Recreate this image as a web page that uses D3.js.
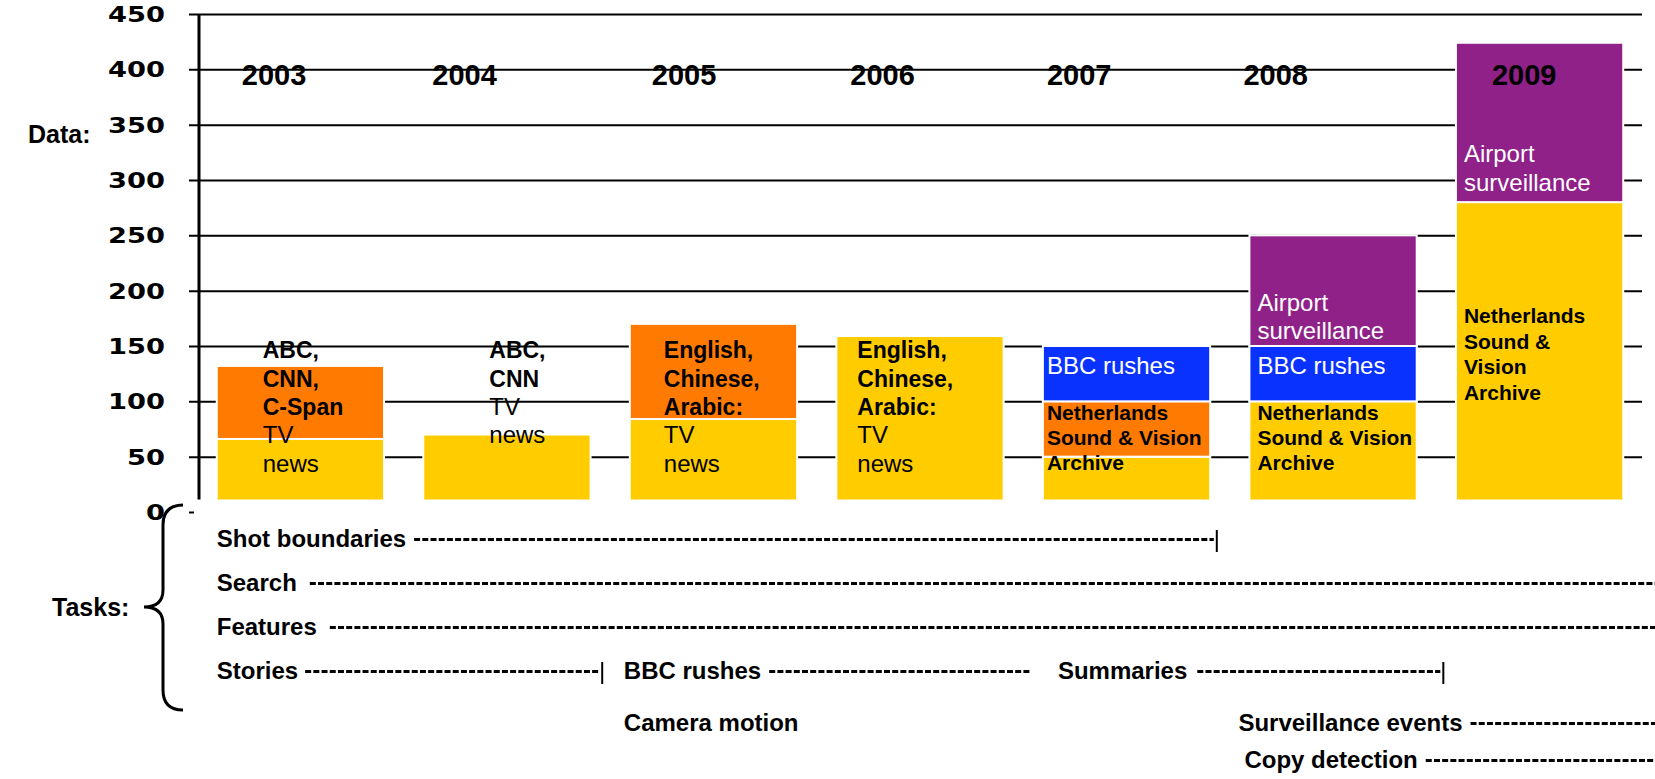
<!DOCTYPE html>
<html>
<head>
<meta charset="utf-8">
<script src="https://cdn.jsdelivr.net/npm/d3@7"></script>
<style>
  body { margin: 0; background: #fff; }
  svg { display: block; font-family: "Liberation Sans", Arial, sans-serif; }
</style>
</head>
<body>
<svg id="chart" width="1655" height="779"></svg>
<script>
// --- data ---
var years = ["2003", "2004", "2005", "2006", "2007", "2008", "2009"]
var layerKeys = ["yellow", "orange", "blue", "purple"]
var yellowVals = [66, 70, 84, 159, 50, 100, 280]
var orangeVals = [66, 0, 86, 0, 50, 0, 0]
var blueVals   = [0, 0, 0, 0, 50, 50, 0]
var purpleVals = [0, 0, 0, 0, 0, 100, 144]
var yTicks = [0, 50, 100, 150, 200, 250, 300, 350, 400, 450]

var taskNames = ["Shot boundaries", "Search", "Features", "Stories", "BBC rushes",
                 "Summaries", "Camera motion", "Surveillance events", "Copy detection"]
var taskRow  = [0, 1, 2, 3, 3, 3, 4, 4, 5]
var taskFrom = ["2003", "2003", "2003", "2003", "2005", "2007", "2005", "2008", "2008"]
var taskTo   = ["2007", "2009", "2009", "2004", "2006", "2008", null, "2009", "2009"]
var taskStop = [true, false, false, true, false, true, false, false, false]

var colors = { yellow: "#FFCC00", orange: "#FF7A00", blue: "#0A32FF", purple: "#8F2189" }

// --- layout ---
var W = 1655, H = 779
var axisX = 199, plotRight = 1642, barFloor = 499.5
var taskRowY = [547, 591, 635, 679, 731, 768]
var taskDx = [0, 0, 0, 0, -6, 15, -6, -11, -5]
var taskEndDx = [-13, 0, 0, -8, 8, 7, 0, 0, 0]
var taskGap = [8, 13, 13, 7, 8, 10, 0, 8, 8]
var yearDx = [25, 9, 22, 14, 4, -6, 36]

var svg = d3.select("#chart")

var x = d3.scaleBand().domain(years).range([axisX, 1641])
  .paddingInner(0.19).paddingOuter(0.086)
var y = d3.scaleLinear().domain([0, 450]).range([512, 14])

// axis + gridlines
var yAxis = d3.axisLeft(y).tickValues(yTicks).tickSize(10)
var gAxis = svg.append("g")
  .attr("transform", "translate(" + axisX + ",0)")
  .call(yAxis)
gAxis.select(".domain").remove()
gAxis.selectAll(".tick line")
  .attr("x1", d => d === 0 ? -5 : plotRight - axisX)
  .attr("x2", -10)
  .attr("stroke", "#000")
  .attr("stroke-width", 2)
gAxis.selectAll(".tick text")
  .attr("x", -34 / 1.3)
  .attr("dy", "0.36em")
  .attr("transform", "scale(1.3,1)")
  .attr("fill", "#000")
  .style("font-family", "'DejaVu Sans', sans-serif")
  .style("font-weight", "bold")
  .style("font-size", "21px")

svg.append("line")
  .attr("x1", axisX).attr("x2", axisX)
  .attr("y1", y(450)).attr("y2", barFloor)
  .attr("stroke", "#000").attr("stroke-width", 3)

// bars
svg.append("clipPath").attr("id", "plotclip")
  .append("rect").attr("x", 0).attr("y", 0).attr("width", W).attr("height", barFloor)

var rows = years.map((yr, i) => ({
  year: yr, yellow: yellowVals[i], orange: orangeVals[i], blue: blueVals[i], purple: purpleVals[i]
}))
var stacked = d3.stack().keys(layerKeys)(rows)

svg.append("g").attr("clip-path", "url(#plotclip)")
  .selectAll("g").data(stacked).enter().append("g")
  .attr("fill", s => colors[s.key])
  .selectAll("rect").data(s => s.filter(d => d[1] > d[0])).enter().append("rect")
  .attr("x", d => x(d.data.year))
  .attr("width", x.bandwidth())
  .attr("y", d => y(d[1]))
  .attr("height", d => y(d[0]) - y(d[1]))
  .attr("stroke", "#fff")
  .attr("stroke-width", 2)

// year labels
svg.selectAll(".yearlab").data(years).enter().append("text")
  .attr("class", "yearlab")
  .attr("x", (d, i) => x(d) + yearDx[i])
  .attr("y", 85)
  .style("font-weight", "bold")
  .style("font-size", "29px")
  .text(d => d)

// text inside bars
var notes = [
  { year: "2003", dx: 46, y: 358, lh: 28.5, bold: true, size: 23, fill: "#000", lines: ["ABC,", "CNN,", "C-Span"] },
  { year: "2003", dx: 46, y: 443, lh: 28.5, bold: false, size: 24, fill: "#000", lines: ["TV", "news"] },
  { year: "2004", dx: 66, y: 358, lh: 28.5, bold: true, size: 23, fill: "#000", lines: ["ABC,", "CNN"] },
  { year: "2004", dx: 66, y: 415, lh: 28, bold: false, size: 24, fill: "#000", lines: ["TV", "news"] },
  { year: "2005", dx: 34, y: 358, lh: 28.5, bold: true, size: 23, fill: "#000", lines: ["English,", "Chinese,", "Arabic:"] },
  { year: "2005", dx: 34, y: 443, lh: 28.5, bold: false, size: 24, fill: "#000", lines: ["TV", "news"] },
  { year: "2006", dx: 21, y: 358, lh: 28.5, bold: true, size: 23, fill: "#000", lines: ["English,", "Chinese,", "Arabic:"] },
  { year: "2006", dx: 21, y: 443, lh: 28.5, bold: false, size: 24, fill: "#000", lines: ["TV", "news"] },
  { year: "2007", dx: 4, y: 374, lh: 28, bold: false, size: 24, fill: "#fff", lines: ["BBC rushes"] },
  { year: "2007", dx: 4, y: 420, lh: 25, bold: true, size: 21, fill: "#000", lines: ["Netherlands", "Sound & Vision", "Archive"] },
  { year: "2008", dx: 8, y: 311, lh: 27.5, bold: false, size: 24, fill: "#fff", lines: ["Airport", "surveillance"] },
  { year: "2008", dx: 8, y: 374, lh: 28, bold: false, size: 24, fill: "#fff", lines: ["BBC rushes"] },
  { year: "2008", dx: 8, y: 420, lh: 25, bold: true, size: 21, fill: "#000", lines: ["Netherlands", "Sound & Vision", "Archive"] },
  { year: "2009", dx: 8, y: 162, lh: 28.5, bold: false, size: 24, fill: "#fff", lines: ["Airport", "surveillance"] },
  { year: "2009", dx: 8, y: 323, lh: 25.5, bold: true, size: 21, fill: "#000", lines: ["Netherlands", "Sound &", "Vision", "Archive"] }
]

notes.forEach(n => {
  var t = svg.append("text")
    .attr("fill", n.fill)
    .style("font-size", n.size + "px")
    .style("font-weight", n.bold ? "bold" : "normal")
  n.lines.forEach((ln, i) => {
    t.append("tspan")
      .attr("x", x(n.year) + n.dx)
      .attr("y", n.y + i * n.lh)
      .text(ln)
  })
})

// side labels
svg.append("text").attr("x", 28).attr("y", 143)
  .style("font-weight", "bold").style("font-size", "25px").text("Data:")
svg.append("text").attr("x", 52).attr("y", 616)
  .style("font-weight", "bold").style("font-size", "25px").text("Tasks:")

svg.append("path")
  .attr("d", "M183,505 Q163,505 163,525 L163,590 Q163,607 144,607 Q163,607 163,624 L163,690 Q163,710 183,710")
  .attr("fill", "none").attr("stroke", "#000").attr("stroke-width", 3)

// tasks timeline
var gap = x.step() - x.bandwidth()
var gTasks = svg.append("g")

taskNames.forEach((name, i) => {
  var by = taskRowY[taskRow[i]]
  var tx = x(taskFrom[i]) + taskDx[i]
  var label = gTasks.append("text")
    .attr("x", tx).attr("y", by)
    .style("font-weight", "bold").style("font-size", "24px")
    .text(name)
  if (!taskTo[i]) return
  var x0 = tx + label.node().getComputedTextLength() + taskGap[i]
  var x1 = taskTo[i] === "2009" ? W : x(taskTo[i]) + x.bandwidth() + gap / 2 + taskEndDx[i]
  gTasks.append("line")
    .attr("x1", x0).attr("x2", taskStop[i] ? x1 - 3 : x1)
    .attr("y1", by - 7.5).attr("y2", by - 7.5)
    .attr("stroke", "#000").attr("stroke-width", 3)
    .attr("stroke-dasharray", "6,2.2")
  if (taskStop[i]) {
    gTasks.append("line")
      .attr("x1", x1).attr("x2", x1)
      .attr("y1", by - 17).attr("y2", by + 5)
      .attr("stroke", "#000").attr("stroke-width", 2)
  }
})
</script>
</body>
</html>
